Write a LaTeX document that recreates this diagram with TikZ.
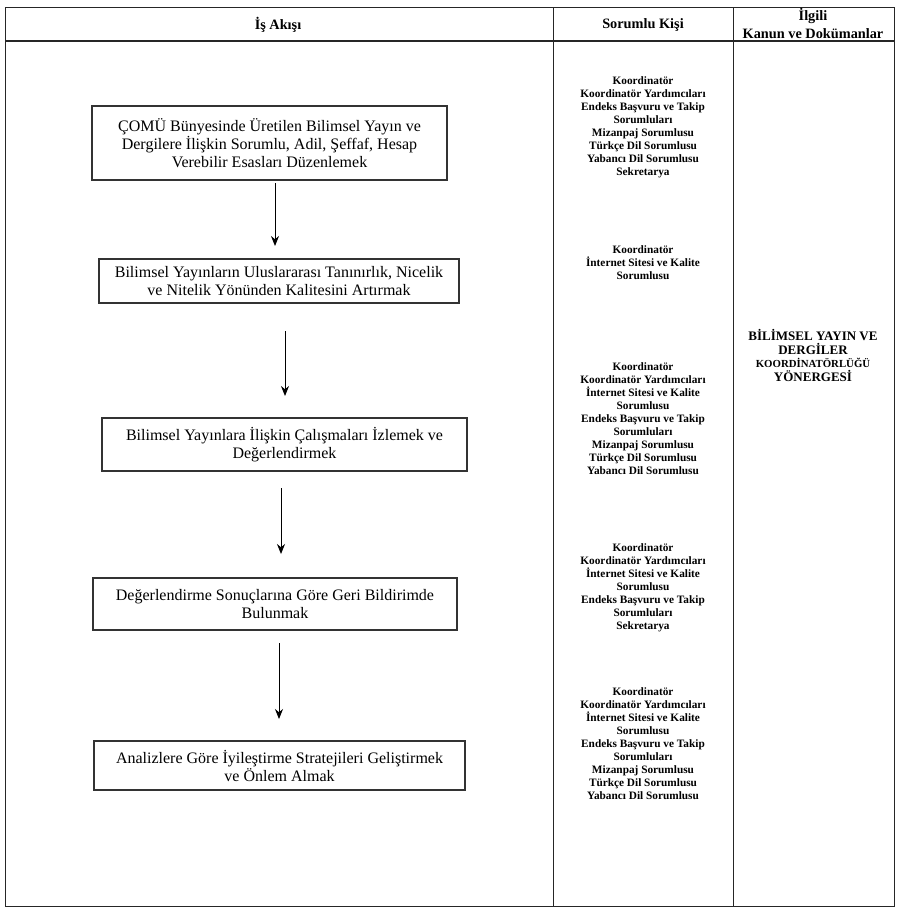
\documentclass[tikz,border=0pt]{standalone}
\usepackage{fontspec}
\setmainfont{Liberation Serif}
\usetikzlibrary{arrows.meta}
\begin{document}
\begin{tikzpicture}[x=1pt,y=-1pt,
 box/.style={draw=black!80, line width=1.3pt, align=center, font=\fontsize{16}{18}\selectfont, inner sep=0pt},
 resp/.style={align=center, font=\bfseries\fontsize{11.3}{13}\selectfont, inner sep=0pt},
 hdr/.style={align=center, font=\bfseries\fontsize{14.3}{18}\selectfont, inner sep=0pt},
 flow/.style={line width=1pt, -{Stealth[length=10pt,width=8pt]}},
 gridline/.style={line width=1pt, draw=black!85}]
\useasboundingbox (0,0) rectangle (900,910);
\fill[white] (0,0) rectangle (900,910);
% table
\draw[gridline] (5,7) rectangle (894,906);
\draw[gridline] (553,7) -- (553,906);
\draw[gridline] (733,7) -- (733,906);
\draw[line width=1.8pt, black!85] (5,41) -- (894,41);
% headers
\node[hdr] (h1) at (278,25) {İş Akışı};
\node[hdr] (h2) at (643,25) {Sorumlu Kişi};
\node[hdr] (h3) at (813,23) {İlgili\\Kanun ve Dokümanlar};
% flow boxes
\node[box, minimum width=355pt, minimum height=74pt] (b1) at (269.5,143) {ÇOMÜ Bünyesinde Üretilen Bilimsel Yayın ve\\Dergilere İlişkin Sorumlu, Adil, Şeffaf, Hesap\\Verebilir Esasları Düzenlemek};
\node[box, minimum width=360pt, minimum height=44pt] (b2) at (279,281) {Bilimsel Yayınların Uluslararası Tanınırlık, Nicelik\\ve Nitelik Yönünden Kalitesini Artırmak};
\node[box, minimum width=365pt, minimum height=53pt] (b3) at (284.5,444.5) {Bilimsel Yayınlara İlişkin Çalışmaları İzlemek ve\\Değerlendirmek};
\node[box, minimum width=364pt, minimum height=52pt] (b4) at (275,604) {Değerlendirme Sonuçlarına Göre Geri Bildirimde\\Bulunmak};
\node[box, minimum width=371pt, minimum height=49pt] (b5) at (279.5,765.5) {Analizlere Göre İyileştirme Stratejileri Geliştirmek\\ve Önlem Almak};
% arrows
\coordinate (a1s) at (275,183); \coordinate (a1e) at (275,246);
\coordinate (a2s) at (285,331); \coordinate (a2e) at (285,396);
\coordinate (a3s) at (281,488); \coordinate (a3e) at (281,554);
\coordinate (a4s) at (279,643); \coordinate (a4e) at (279,719);
\draw[flow] (a1s) -- (a1e);
\draw[flow] (a2s) -- (a2e);
\draw[flow] (a3s) -- (a3e);
\draw[flow] (a4s) -- (a4e);
% responsible
\node[resp] (r1) at (643,127) {Koordinatör\\Koordinatör Yardımcıları\\Endeks Başvuru ve Takip\\Sorumluları\\Mizanpaj Sorumlusu\\Türkçe Dil Sorumlusu\\Yabancı Dil Sorumlusu\\Sekretarya};
\node[resp] (r2) at (643,263) {Koordinatör\\İnternet Sitesi ve Kalite\\Sorumlusu};
\node[resp] (r3) at (643,419) {Koordinatör\\Koordinatör Yardımcıları\\İnternet Sitesi ve Kalite\\Sorumlusu\\Endeks Başvuru ve Takip\\Sorumluları\\Mizanpaj Sorumlusu\\Türkçe Dil Sorumlusu\\Yabancı Dil Sorumlusu};
\node[resp] (r4) at (643,588) {Koordinatör\\Koordinatör Yardımcıları\\İnternet Sitesi ve Kalite\\Sorumlusu\\Endeks Başvuru ve Takip\\Sorumluları\\Sekretarya};
\node[resp] (r5) at (643,744) {Koordinatör\\Koordinatör Yardımcıları\\İnternet Sitesi ve Kalite\\Sorumlusu\\Endeks Başvuru ve Takip\\Sorumluları\\Mizanpaj Sorumlusu\\Türkçe Dil Sorumlusu\\Yabancı Dil Sorumlusu};
% documents
\node[align=center, inner sep=0pt, font=\bfseries\fontsize{13}{13.7}\selectfont] (d1) at (813,355.5) {BİLİMSEL YAYIN VE\\DERGİLER\\{\fontsize{10.8}{13.7}\selectfont KOORDİNATÖRLÜĞÜ}\\YÖNERGESİ};
\end{tikzpicture}
\end{document}
